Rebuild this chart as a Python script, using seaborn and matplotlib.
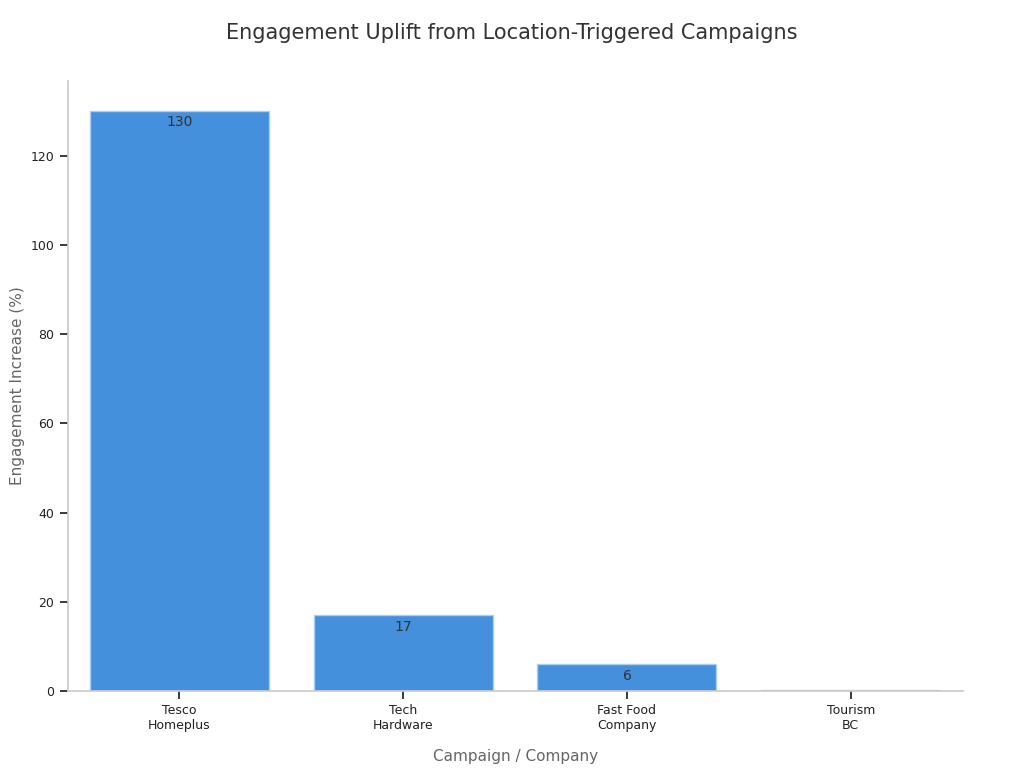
import matplotlib
matplotlib.use("Agg")
import matplotlib.pyplot as plt
import seaborn as sns

categories = ["Tesco\nHomeplus", "Tech\nHardware", "Fast Food\nCompany", "Tourism\nBC"]
values = [130, 17, 6, 0.3]
labels = ["130", "17", "6", ""]
colors = ["#2b90f5", "#2b90f5", "#2b90f5", "#87c4ea"]

sns.set_theme(style="ticks")
plt.rcParams['font.family'] = ['DejaVu Sans']
fig, ax = plt.subplots(figsize=(10.24, 7.68), dpi=100)
fig.subplots_adjust(left=0.066, right=0.94, top=0.895, bottom=0.1)
sns.barplot(x=categories, y=values, palette=colors, hue=categories, legend=False,
            ax=ax, width=0.8, edgecolor="#a8d0f5", linewidth=1)
for i, (v, l) in enumerate(zip(values, labels)):
    if l:
        ax.text(i, v - 1, l, ha="center", va="top", fontsize=10, color="#333333")
ax.set_ylim(0, 136.8)
ax.set_xlim(-0.5, 3.5)
ax.set_yticks([0, 20, 40, 60, 80, 100, 120])
ax.tick_params(labelsize=9, colors="#222222")
for s in ["top", "right"]:
    ax.spines[s].set_visible(False)
for s in ["left", "bottom"]:
    ax.spines[s].set_color("#cccccc")
ax.set_xlabel("Campaign / Company", fontsize=11, color="#666666", labelpad=12)
ax.set_ylabel("Engagement Increase (%)", fontsize=11, color="#666666")
fig.suptitle("Engagement Uplift from Location-Triggered Campaigns", fontsize=15, color="#333333", y=0.97)
fig.savefig("out.png", dpi=100)
